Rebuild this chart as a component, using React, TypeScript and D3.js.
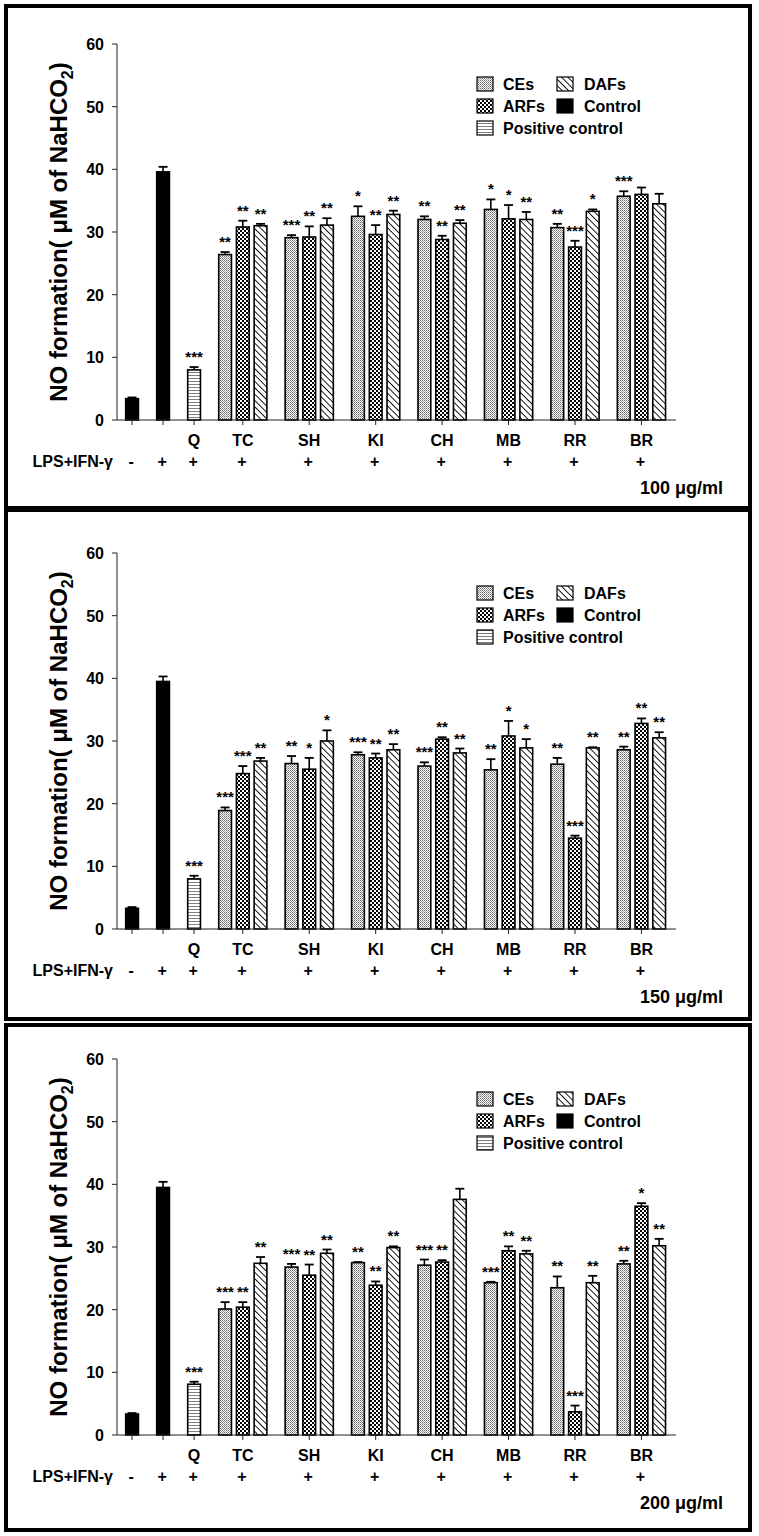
import React from "react";
import * as d3 from "d3";

// ---------- data ----------
const groups = ["TC", "SH", "KI", "CH", "MB", "RR", "BR"];
const seriesNames = ["CEs", "ARFs", "DAFs"];
const controlLabels = ["", "", "Q"];
const lpsSigns = ["-", "+", "+", "+", "+", "+", "+", "+", "+", "+"];
const yTicks = [0, 10, 20, 30, 40, 50, 60];
const doseLabels = ["100 μg/ml", "150 μg/ml", "200 μg/ml"];

// panel 1 (100 µg/ml)
const p1Controls = [3.4, 39.6, 8.0];
const p1ControlErr = [0.2, 0.8, 0.45];
const p1ControlStars = ["", "", "***"];
const p1CEs = [26.4, 29.1, 32.5, 32.0, 33.6, 30.7, 35.7];
const p1CEsErr = [0.4, 0.4, 1.6, 0.5, 1.6, 0.6, 0.8];
const p1ARFs = [30.8, 29.2, 29.6, 28.8, 32.1, 27.6, 36.0];
const p1ARFsErr = [1.0, 1.7, 1.5, 0.6, 2.2, 1.0, 1.1];
const p1DAFs = [31.0, 31.1, 32.8, 31.4, 32.0, 33.3, 34.5];
const p1DAFsErr = [0.3, 1.1, 0.6, 0.5, 1.2, 0.3, 1.6];
const p1CEsStars = ["**", "***", "*", "**", "*", "**", "***"];
const p1ARFsStars = ["**", "**", "**", "**", "*", "***", ""];
const p1DAFsStars = ["**", "**", "**", "**", "**", "*", ""];

// panel 2 (150 µg/ml)
const p2Controls = [3.3, 39.5, 8.0];
const p2ControlErr = [0.2, 0.8, 0.5];
const p2ControlStars = ["", "", "***"];
const p2CEs = [18.9, 26.4, 27.8, 26.0, 25.4, 26.3, 28.6];
const p2CEsErr = [0.5, 1.2, 0.4, 0.6, 1.7, 1.0, 0.5];
const p2ARFs = [24.8, 25.5, 27.3, 30.3, 30.8, 14.5, 32.8];
const p2ARFsErr = [1.2, 1.8, 0.7, 0.3, 2.4, 0.4, 0.8];
const p2DAFs = [26.8, 30.0, 28.6, 28.1, 28.9, 28.9, 30.5];
const p2DAFsErr = [0.5, 1.7, 0.9, 0.7, 1.4, 0.1, 0.9];
const p2CEsStars = ["***", "**", "***", "***", "**", "**", "**"];
const p2ARFsStars = ["***", "*", "**", "**", "*", "***", "**"];
const p2DAFsStars = ["**", "*", "**", "**", "*", "**", "**"];

// panel 3 (200 µg/ml)
const p3Controls = [3.35, 39.5, 8.1];
const p3ControlErr = [0.15, 0.9, 0.4];
const p3ControlStars = ["", "", "***"];
const p3CEs = [20.1, 26.8, 27.5, 27.1, 24.3, 23.5, 27.3];
const p3CEsErr = [1.1, 0.5, 0.1, 0.9, 0.15, 1.8, 0.5];
const p3ARFs = [20.4, 25.5, 23.9, 27.6, 29.4, 3.7, 36.5];
const p3ARFsErr = [0.8, 1.7, 0.6, 0.3, 0.7, 1.0, 0.5];
const p3DAFs = [27.4, 29.0, 29.9, 37.6, 28.9, 24.3, 30.2];
const p3DAFsErr = [1.0, 0.6, 0.2, 1.7, 0.5, 1.1, 1.1];
const p3CEsStars = ["***", "***", "**", "***", "***", "**", "**"];
const p3ARFsStars = ["**", "**", "**", "**", "**", "***", "*"];
const p3DAFsStars = ["**", "**", "**", "", "**", "**", "**"];

const panels = [
  { controls: p1Controls, controlErr: p1ControlErr, controlStars: p1ControlStars,
    values: [p1CEs, p1ARFs, p1DAFs], errs: [p1CEsErr, p1ARFsErr, p1DAFsErr],
    stars: [p1CEsStars, p1ARFsStars, p1DAFsStars], dose: doseLabels[0] },
  { controls: p2Controls, controlErr: p2ControlErr, controlStars: p2ControlStars,
    values: [p2CEs, p2ARFs, p2DAFs], errs: [p2CEsErr, p2ARFsErr, p2DAFsErr],
    stars: [p2CEsStars, p2ARFsStars, p2DAFsStars], dose: doseLabels[1] },
  { controls: p3Controls, controlErr: p3ControlErr, controlStars: p3ControlStars,
    values: [p3CEs, p3ARFs, p3DAFs], errs: [p3CEsErr, p3ARFsErr, p3DAFsErr],
    stars: [p3CEsStars, p3ARFsStars, p3DAFsStars], dose: doseLabels[2] },
];

// ---------- layout ----------
const W = 759;
const H = 1536;
const FONT = "'Liberation Sans', Arial, Helvetica, sans-serif";
const panelBoxes = [
  { y0: 6, y1: 508, top: 44 },
  { y0: 510, y1: 1019, top: 553 },
  { y0: 1025, y1: 1530, top: 1059 },
];
const AXIS_X0 = 117;
const AXIS_X1 = 676;
const PLOT_H = 376;
const SINGLE_STEP = 1.75;
const GROUP_START = 5.25;
const GROUP_STEP = 3.75;
const BAR_W = 0.72;

const x = d3.scaleLinear().domain([-0.85, 30.7]).range([AXIS_X0, AXIS_X1]);

const singlePos = (i: number) => i * SINGLE_STEP;
const groupBarPos = (g: number, j: number) => GROUP_START + g * GROUP_STEP + j;

const fills = ["url(#pCEs)", "url(#pARFs)", "url(#pDAFs)"];
const controlFills = ["#000", "#000", "url(#pPos)"];

function Panel({ p, box }: { p: (typeof panels)[number]; box: (typeof panelBoxes)[number] }) {
  const y = d3.scaleLinear().domain([0, 60]).range([box.top + PLOT_H, box.top]);
  const base = y(0);
  const bw = x(BAR_W) - x(0);

  type Bar = { pos: number; v: number; e: number; s: string; fill: string };
  const bars: Bar[] = [];
  p.controls.forEach((v, i) =>
    bars.push({ pos: singlePos(i), v, e: p.controlErr[i], s: p.controlStars[i], fill: controlFills[i] })
  );
  groups.forEach((_, g) =>
    seriesNames.forEach((_, j) =>
      bars.push({ pos: groupBarPos(g, j), v: p.values[j][g], e: p.errs[j][g], s: p.stars[j][g], fill: fills[j] })
    )
  );

  const catPos = [0, 1, 2].map(singlePos).concat(groups.map((_, g) => groupBarPos(g, 1)));
  const catLabels = controlLabels.concat(groups);

  const legendRows = [box.top + 40, box.top + 62, box.top + 84];
  const legendItems = [
    { bx: 477, tx: 503, row: 0, fill: fills[0], label: "CEs" },
    { bx: 557, tx: 584, row: 0, fill: fills[2], label: "DAFs" },
    { bx: 477, tx: 503, row: 1, fill: fills[1], label: "ARFs" },
    { bx: 557, tx: 584, row: 1, fill: "#000", label: "Control" },
    { bx: 477, tx: 503, row: 2, fill: controlFills[2], label: "Positive control" },
  ];

  const midY = (y(0) + y(60)) / 2;

  return (
    <g>
      <rect x={6} y={box.y0} width={744} height={box.y1 - box.y0} fill="none" stroke="#000" strokeWidth={4} />
      {/* y axis title */}
      <text
        transform={`translate(67,${midY}) rotate(-90)`}
        textAnchor="middle"
        fontFamily={FONT}
        fontWeight="bold"
        fontSize={24}
      >
        NO formation( μM of NaHCO
        <tspan fontSize={16} dy={6}>2</tspan>
        <tspan dy={-6}>)</tspan>
      </text>
      {/* bars */}
      {bars.map((b, i) => {
        const cx = x(b.pos);
        const yt = y(b.v);
        const ye = y(b.v + b.e);
        return (
          <g key={i}>
            <rect x={cx - bw / 2} y={yt} width={bw} height={base - yt} fill={b.fill} stroke="#000" strokeWidth={1.6} />
            <line x1={cx} x2={cx} y1={yt} y2={ye} stroke="#000" strokeWidth={1.6} />
            <line x1={cx - 4.5} x2={cx + 4.5} y1={ye} y2={ye} stroke="#000" strokeWidth={1.8} />
            {b.s && (
              <text x={cx} y={ye - 5} textAnchor="middle" fontFamily={FONT} fontWeight="bold" fontSize={15}>
                {b.s}
              </text>
            )}
          </g>
        );
      })}
      {/* y axis */}
      <line x1={AXIS_X0} x2={AXIS_X0} y1={y(60)} y2={base} stroke="#222" strokeWidth={1} />
      {yTicks.map((t) => (
        <g key={t}>
          <line x1={AXIS_X0 - 5} x2={AXIS_X0} y1={y(t)} y2={y(t)} stroke="#222" strokeWidth={1} />
          <text x={AXIS_X0 - 13} y={y(t) + 6} textAnchor="end" fontFamily={FONT} fontWeight="bold" fontSize={16}>
            {t}
          </text>
        </g>
      ))}
      {/* x axis */}
      <line x1={AXIS_X0} x2={AXIS_X1} y1={base} y2={base} stroke="#222" strokeWidth={1} />
      {catPos.map((cp, i) => (
        <g key={i}>
          <line x1={x(cp)} x2={x(cp)} y1={base} y2={base + 5} stroke="#222" strokeWidth={1} />
          {catLabels[i] && (
            <text x={x(cp)} y={base + 26} textAnchor="middle" fontFamily={FONT} fontWeight="bold" fontSize={16}>
              {catLabels[i]}
            </text>
          )}
          <text x={x(cp) - 1} y={base + 47} textAnchor="middle" fontFamily={FONT} fontWeight="bold" fontSize={16}>
            {lpsSigns[i]}
          </text>
        </g>
      ))}
      <text x={113} y={base + 47} textAnchor="end" fontFamily={FONT} fontWeight="bold" fontSize={16}>
        LPS+IFN-γ
      </text>
      <text x={723} y={base + 74} textAnchor="end" fontFamily={FONT} fontWeight="bold" fontSize={18}>
        {p.dose}
      </text>
      {/* legend */}
      {legendItems.map((li, i) => (
        <g key={i}>
          <rect x={li.bx} y={legendRows[li.row] - 7} width={16} height={14} fill={li.fill} stroke="#000" strokeWidth={1.2} />
          <text x={li.tx} y={legendRows[li.row] + 6} fontFamily={FONT} fontWeight="bold" fontSize={16}>
            {li.label}
          </text>
        </g>
      ))}
    </g>
  );
}

export default function App() {
  return (
    <svg width={W} height={H} style={{ display: "block", position: "absolute", left: 0, top: 0 }}>
      <defs>
        <pattern id="pCEs" width={2} height={2} patternUnits="userSpaceOnUse">
          <rect width={2} height={2} fill="#fff" />
          <rect x={0} y={0} width={1} height={1} fill="#666" />
          <rect x={1} y={1} width={1} height={1} fill="#9a9a9a" />
        </pattern>
        <pattern id="pARFs" width={4} height={4} patternUnits="userSpaceOnUse">
          <rect width={4} height={4} fill="#000" />
          <rect x={0} y={0} width={2} height={2} fill="#fff" />
          <rect x={2} y={2} width={2} height={2} fill="#fff" />
        </pattern>
        <pattern id="pDAFs" width={4.5} height={4.5} patternUnits="userSpaceOnUse" patternTransform="rotate(-45)">
          <rect width={4.5} height={4.5} fill="#fff" />
          <line x1={0} y1={0} x2={0} y2={4.5} stroke="#000" strokeWidth={1.8} />
        </pattern>
        <pattern id="pPos" width={4} height={3} patternUnits="userSpaceOnUse">
          <rect width={4} height={3} fill="#fff" />
          <line x1={0} y1={0} x2={4} y2={0} stroke="#000" strokeWidth={1} />
        </pattern>
      </defs>
      <rect width={W} height={H} fill="#fff" />
      {panels.map((p, i) => (
        <Panel key={i} p={p} box={panelBoxes[i]} />
      ))}
    </svg>
  );
}
